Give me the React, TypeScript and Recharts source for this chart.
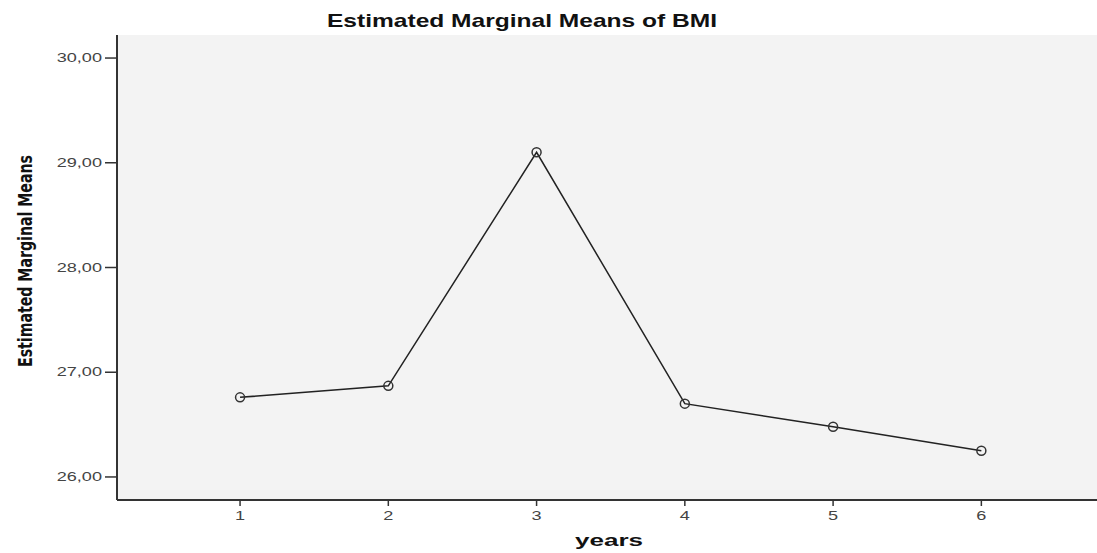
import React from "react";
import { LineChart, Line, XAxis, YAxis, CartesianGrid } from "recharts";

const years = [1, 2, 3, 4, 5, 6];
const bmiMeans = [26.76, 26.87, 29.1, 26.7, 26.48, 26.25];
const yTicks = [26, 27, 28, 29, 30];

const data = years.map((y, i) => ({ year: y, bmi: bmiMeans[i] }));

const fmt = (v: number) => v.toFixed(2).replace(".", ",");
const FONT = "Liberation Sans, Arial, sans-serif";

// the original export is stretched sideways, so tick text gets a horizontal scale
const YTick = (props: any) => {
  const { x, y, payload } = props;
  return (
    <g transform={`translate(${x},${y}) scale(1.45,1)`}>
      <text x={0} y={0} dy={4} textAnchor="end" fontFamily={FONT} fontSize={12.5} fill="#444">
        {fmt(payload.value)}
      </text>
    </g>
  );
};

const XTick = (props: any) => {
  const { x, y, payload } = props;
  return (
    <g transform={`translate(${x},${y}) scale(1.45,1)`}>
      <text x={0} y={0} dy={12} textAnchor="middle" fontFamily={FONT} fontSize={12.5} fill="#444">
        {payload.value}
      </text>
    </g>
  );
};

const App: React.FC = () => {
  return (
    <div style={{ position: "absolute", left: 0, top: 0, background: "#fff" }}>
      <LineChart
        width={1097}
        height={553}
        data={data}
        margin={{ top: 35, right: 0, bottom: 0, left: 0 }}
      >
        <text
          x={522}
          y={27}
          textAnchor="middle"
          fontFamily={FONT}
          fontWeight="bold"
          fontSize={19}
          fill="#111"
          textLength={390}
          lengthAdjust="spacingAndGlyphs"
        >
          Estimated Marginal Means of BMI
        </text>
        <text
          x={609}
          y={546}
          textAnchor="middle"
          fontFamily={FONT}
          fontWeight="bold"
          fontSize={17}
          fill="#111"
          textLength={68}
          lengthAdjust="spacingAndGlyphs"
        >
          years
        </text>
        <text
          x={32}
          y={261}
          transform="rotate(-90 32 261)"
          textAnchor="middle"
          fontFamily="DejaVu Sans, sans-serif"
          fontWeight="bold"
          fontSize={20}
          fill="#111"
          textLength={212}
          lengthAdjust="spacingAndGlyphs"
        >
          Estimated Marginal Means
        </text>
        <CartesianGrid fill="#f3f3f3" horizontal={false} vertical={false} />
        <XAxis
          xAxisId="top"
          orientation="top"
          dataKey="year"
          type="number"
          domain={[0.17, 6.78]}
          allowDataOverflow
          tick={false}
          tickLine={false}
          height={0}
          stroke="#999"
          strokeWidth={2}
        />
        <XAxis
          dataKey="year"
          type="number"
          domain={[0.17, 6.78]}
          allowDataOverflow
          ticks={years}
          stroke="#333"
          strokeWidth={2}
          tickSize={6}
          tickMargin={2}
          tick={<XTick />}
          tickLine={{ stroke: "#333", strokeWidth: 1.5 }}
          height={53}
        />
        <YAxis
          type="number"
          domain={[25.78, 30.22]}
          allowDataOverflow
          ticks={yTicks}
          width={117}
          stroke="#333"
          strokeWidth={2}
          tickSize={12}
          tickMargin={3}
          tick={<YTick />}
          tickLine={{ stroke: "#333", strokeWidth: 1.5 }}
        />
        <Line
          type="linear"
          dataKey="bmi"
          stroke="#222"
          strokeWidth={1.5}
          dot={{ r: 4.5, stroke: "#333", strokeWidth: 1.5, fill: "none" }}
          activeDot={false}
          isAnimationActive={false}
        />
      </LineChart>
    </div>
  );
};

export default App;
